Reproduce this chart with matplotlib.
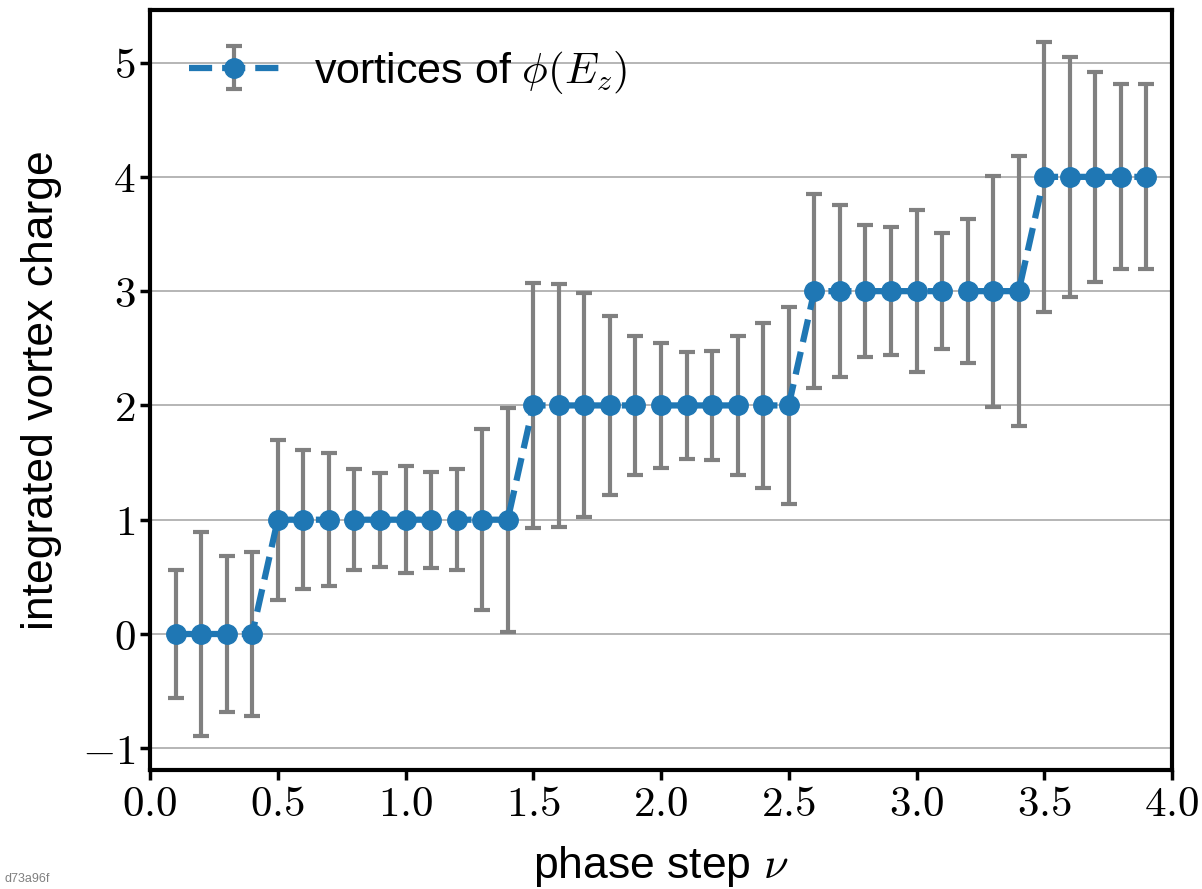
import numpy as np
import matplotlib
matplotlib.use('Agg')
import matplotlib.pyplot as plt
from matplotlib.ticker import FuncFormatter, MultipleLocator

plt.rcParams['font.family'] = ['Liberation Sans', 'DejaVu Sans']
plt.rcParams['mathtext.fontset'] = 'cm'

# phase steps and integrated vortex charge with spread
nu = [0.1, 0.2, 0.3, 0.4, 0.5, 0.6, 0.7, 0.8, 0.9, 1.0,
      1.1, 1.2, 1.3, 1.4, 1.5, 1.6, 1.7, 1.8, 1.9, 2.0,
      2.1, 2.2, 2.3, 2.4, 2.5, 2.6, 2.7, 2.8, 2.9, 3.0,
      3.1, 3.2, 3.3, 3.4, 3.5, 3.6, 3.7, 3.8, 3.9]
charge = [0, 0, 0, 0, 1, 1, 1, 1, 1, 1,
          1, 1, 1, 1, 2, 2, 2, 2, 2, 2,
          2, 2, 2, 2, 2, 3, 3, 3, 3, 3,
          3, 3, 3, 3, 4, 4, 4, 4, 4]
charge_err = [0.56, 0.89, 0.68, 0.72, 0.70, 0.61, 0.58, 0.44, 0.41, 0.47,
              0.42, 0.44, 0.79, 0.98, 1.07, 1.06, 0.98, 0.78, 0.61, 0.55,
              0.47, 0.48, 0.61, 0.72, 0.86, 0.85, 0.75, 0.58, 0.56, 0.71,
              0.51, 0.63, 1.01, 1.18, 1.18, 1.05, 0.92, 0.81, 0.81]

fig = plt.figure(figsize=(12.02, 8.89), dpi=100)
ax = fig.add_axes([150/1202, 1 - 770/889, 1022/1202, 760/889])

ax.errorbar(nu, charge, yerr=charge_err, fmt='o--', color='#1f77b4',
            lw=4.5, ms=14, ecolor='gray', elinewidth=3, capsize=6,
            capthick=3, label=r'vortices of $\phi(E_z)$')

ax.set_xlim(0, 4)
ax.set_ylim(-1.19, 5.46)
ax.xaxis.set_major_locator(MultipleLocator(0.5))
ax.yaxis.set_major_locator(MultipleLocator(1))
ax.xaxis.set_major_formatter(FuncFormatter(lambda v, p: '$%.1f$' % v))
ax.yaxis.set_major_formatter(FuncFormatter(lambda v, p: '$%d$' % round(v)))
ax.grid(axis='y', color='#b0b0b0', lw=1.3)
ax.set_axisbelow(True)

for s in ax.spines.values():
    s.set_linewidth(3)
ax.tick_params(width=2.5, length=7, labelsize=31)

ax.set_xlabel(r'phase step $\nu$', fontsize=32, labelpad=14)
ax.set_ylabel('integrated vortex charge', fontsize=32, labelpad=14)

ax.legend(loc='upper left', frameon=False, fontsize=31, handlelength=2.1,
          borderaxespad=0.5, borderpad=0.4)

fig.text(0.004, 0.008, 'd73a96f', fontsize=9, color='gray')

fig.savefig('out.png', dpi=100)
